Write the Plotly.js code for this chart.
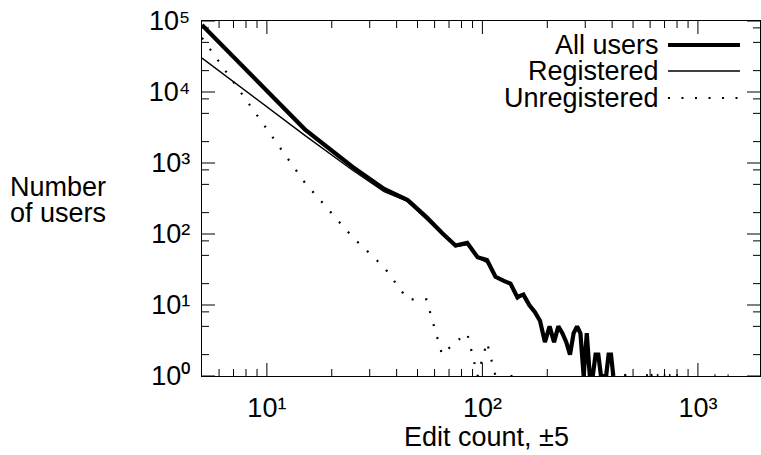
<!DOCTYPE html>
<html>
<head>
<meta charset="utf-8">
<script src="https://cdn.plot.ly/plotly-3.0.1.min.js"></script>
<style>
html,body{margin:0;padding:0;background:#fff;}
#chart{width:761px;height:455px;}
</style>
</head>
<body>
<div id="chart"></div>
<script>
// Edit-count bins (centre of each ±5 bin); a null value marks an empty bin (line break)
const editCount = [5,15,25,35,45,55,65,75,85,95,105,115,125,135,145,155,165,175,185,195,
  205,215,225,235,245,255,265,275,285,295,305,315,325,335,345,355,365,375,385,395,405,415,
  455,465,475, 575,585,595, 605,615,625, 645,655,665, 695,705,715, 735,745,755, 795,805,815,
  1195,1205,1215, 1375,1385];

const allUsers = [88000,2980,880,430,300,173,103,69,75,47,43,25,22,20,13,14,10,8,6,3,
  5,3,5,4,3,2,4,5,4,1,4,1,1,2,2,1,1,1,2,2,1,null,
  1,1,null, 1,1,null, 1,1,null, 1,1,null, 1,1,null, 1,1,null, 1,1,null,
  1,1,null, 1,1];

const registered = [30000,2450,790,396,288,161,101,66,71,46,40,24,22,19,12,14,10,8,6,3,
  5,3,5,4,3,2,4,5,4,1,4,1,1,2,2,1,1,1,2,2,1,null,
  1,1,null, 1,1,null, 1,1,null, 1,1,null, 1,1,null, 1,1,null, 1,1,null,
  1,1,null, 1,1];

const unregistered = [58000,530,90,34,12,12,2,3,4,1,3,1,null,1,1,null,null,null,null,null,
  null,null,null,null,null,null,null,null,null,null,null,null,null,null,null,null,null,null,null,null,null,null,
  null,null,null, null,null,null, null,null,null, null,null,null, null,null,null, null,null,null, null,null,null,
  null,null,null, null,null];

const seriesNames = ["All users","Registered","Unregistered"];
const xTickVals = [10,100,1000];
const xTickText = ["10\u00b9","10\u00b2","10\u00b3"];
const yTickVals = [1,10,100,1000,10000,100000];
const yTickText = ["10\u2070","10\u00b9","10\u00b2","10\u00b3","10\u2074","10\u2075"];

const xRange = [Math.log10(5), 3.288];
const yRange = [0, 5];

// minor tick positions (axis decoration)
const xMinor = [];
[1,10,100,1000].forEach(d => { for (let m = 2; m <= 9; m++) xMinor.push(m*d); });
const yMinor = [];
[1,10,100,1000,10000].forEach(d => { [2,5,8].forEach(m => yMinor.push(m*d)); });

const FONT = "Liberation Sans, Arial, Helvetica, sans-serif";
const styles = [
  {color:"#000", width:4.2, dash:"solid"},
  {color:"#000", width:1.4, dash:"solid"},
  {color:"#000", width:2.2, dash:"2px,11.5px"}
];
const values = [allUsers, registered, unregistered];

const traces = values.map((v,i) => ({
  x: editCount, y: v, type: "scatter", mode: "lines", name: seriesNames[i],
  line: styles[i], connectgaps: false, showlegend: false, hoverinfo: "skip"
}));

const L = 202, R = 760, T = 21, B = 376, W = 761, H = 455;
const px = v => (v - L) / (R - L);
const py = v => (B - v) / (B - T);

const legendRows = [45, 71, 98];
const annotations = seriesNames.map((n,i) => ({
  text: n, xref: "paper", yref: "paper", x: px(661), y: py(legendRows[i]),
  xanchor: "right", yanchor: "middle", showarrow: false,
  font: {family: FONT, size: 27, color: "#000"}
}));
annotations.push({
  text: "Number", xref: "paper", yref: "paper", x: px(8), y: py(187),
  xanchor: "left", yanchor: "middle", align: "left", showarrow: false,
  font: {family: FONT, size: 27, color: "#000"}
});
annotations.push({
  text: "of users", xref: "paper", yref: "paper", x: px(8), y: py(213),
  xanchor: "left", yanchor: "middle", align: "left", showarrow: false,
  font: {family: FONT, size: 27, color: "#000"}
});
annotations.push({
  text: "Edit count, \u00b15", xref: "paper", yref: "paper", x: px(486), y: py(437),
  xanchor: "center", yanchor: "middle", showarrow: false,
  font: {family: FONT, size: 27, color: "#000"}
});

const shapes = styles.map((s,i) => ({
  type: "line", xref: "paper", yref: "paper",
  x0: px(668), x1: px(740), y0: py(legendRows[i]), y1: py(legendRows[i]),
  line: {color: s.color, width: s.width, dash: s.dash}
}));

// tick marks drawn inward on all four sides (gnuplot style), placed from the tick value arrays
const tickLine = {color: "#000", width: 1};
const fx = v => (Math.log10(v) - xRange[0]) / (xRange[1] - xRange[0]);
const fy = v => (Math.log10(v) - yRange[0]) / (yRange[1] - yRange[0]);
const addXTicks = (vals, len) => vals.forEach(v => {
  const f = fx(v); if (f <= 0.001 || f >= 0.999) return;
  const h = len / (B - T);
  shapes.push({type: "line", xref: "paper", yref: "paper", x0: f, x1: f, y0: 0, y1: h, line: tickLine});
  shapes.push({type: "line", xref: "paper", yref: "paper", x0: f, x1: f, y0: 1, y1: 1 - h, line: tickLine});
});
const addYTicks = (vals, len) => vals.forEach(v => {
  const f = fy(v); if (f < 0 || f > 1) return;
  const w = len / (R - L);
  shapes.push({type: "line", xref: "paper", yref: "paper", x0: 0, x1: w, y0: f, y1: f, line: tickLine});
  shapes.push({type: "line", xref: "paper", yref: "paper", x0: 1, x1: 1 - w, y0: f, y1: f, line: tickLine});
});
addXTicks(xTickVals, 13); addXTicks(xMinor, 7);
addYTicks(yTickVals, 13); addYTicks(yMinor, 7);

const axisCommon = {
  type: "log", showline: true, linecolor: "#000", linewidth: 1.3, mirror: true,
  ticks: "", showgrid: false, zeroline: false, tickmode: "array",
  tickfont: {family: FONT, size: 27, color: "#000"}
};

const layout = {
  width: W, height: H,
  margin: {l: L, r: W - R, t: T, b: H - B},
  showlegend: false,
  xaxis: Object.assign({}, axisCommon, {
    range: xRange, tickvals: xTickVals, ticktext: xTickText, ticklabelstandoff: 7
  }),
  yaxis: Object.assign({}, axisCommon, {
    range: yRange, tickvals: yTickVals, ticktext: yTickText, ticklabelstandoff: 5
  }),
  annotations: annotations,
  shapes: shapes
};

Plotly.newPlot("chart", traces, layout, {staticPlot: true, displayModeBar: false});
</script>
</body>
</html>
